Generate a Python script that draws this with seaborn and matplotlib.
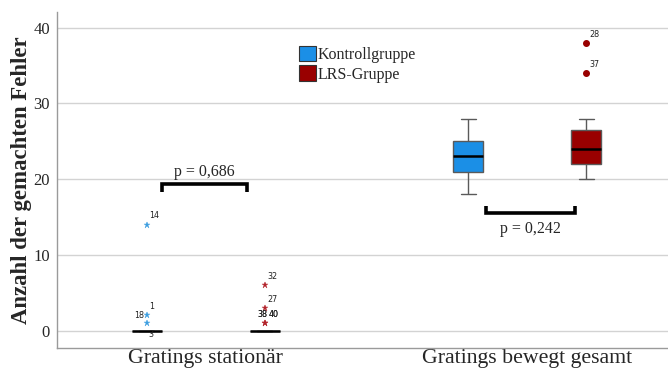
import numpy as np
import pandas as pd
import matplotlib
matplotlib.use("Agg")
import matplotlib.pyplot as plt
import seaborn as sns
from matplotlib.patches import Patch

# --- data -------------------------------------------------------------------
conditions = ["Gratings stationär", "Gratings bewegt gesamt"]
groups = ["Kontrollgruppe", "LRS-Gruppe"]

cases_kontroll = list(range(1, 21))
cases_lrs = list(range(21, 41))

# number of errors per case
kontroll_stationaer = [2, 0, 0, 0, 0, 0, 0, 0, 0, 0, 0, 0, 0, 14, 0, 0, 0, 1, 0, 0]
kontroll_bewegt = [23, 21, 25, 19, 24, 22, 28, 23, 21, 26, 25, 18, 23, 22, 27, 24, 21, 25, 20, 23]
lrs_stationaer = [0, 0, 0, 0, 0, 0, 3, 0, 0, 0, 0, 6, 0, 0, 0, 0, 0, 1, 0, 1]
lrs_bewegt = [24, 22, 26, 20, 28, 23, 24, 38, 22, 25, 21, 28, 24, 22, 23, 25, 34, 24, 22, 28]

p_values = ["p = 0,686", "p = 0,242"]

rows = []
for cond, vals_k, vals_l in [(conditions[0], kontroll_stationaer, lrs_stationaer),
                             (conditions[1], kontroll_bewegt, lrs_bewegt)]:
    for c, v in zip(cases_kontroll, vals_k):
        rows.append((cond, groups[0], c, v))
    for c, v in zip(cases_lrs, vals_l):
        rows.append((cond, groups[1], c, v))
df = pd.DataFrame(rows, columns=["Bedingung", "Gruppe", "Fall", "Fehler"])

# --- style ------------------------------------------------------------------
sns.set_style("white")
serif = ["Liberation Serif", "DejaVu Serif"]
plt.rcParams["font.family"] = serif

blue = "#1b8fe6"
red = "#990000"
star_colors = {groups[0]: "#3d9ee0", groups[1]: "#b3242c"}

fig = plt.figure(figsize=(6.68, 3.76), dpi=100)
ax = fig.add_axes([0.0853, 0.0745, 0.9147, 0.8935])

sns.boxplot(data=df, x="Bedingung", y="Fehler", hue="Gruppe",
            order=conditions, hue_order=groups, palette=[blue, red],
            saturation=1, width=0.734, gap=0.746, linewidth=1.0, linecolor="#5a5a5a",
            fliersize=4, legend=False, ax=ax,
            medianprops=dict(color="black", linewidth=1.8))

# restyle outliers: stars for the stationary condition, dots otherwise,
# and label every outlier with its case number
label_offsets = {18: (-9.2, 2), 38: (-5.6, 3), 40: (2.6, 3)}
for line in list(ax.lines):
    if line.get_marker() in ("None", None, "") or len(line.get_xdata()) == 0:
        continue
    xs = np.asarray(line.get_xdata(), dtype=float)
    ys = np.asarray(line.get_ydata(), dtype=float)
    ci = int(round(xs.mean()))
    group = groups[0] if xs.mean() < ci else groups[1]
    if ci == 0:
        line.set_marker("*")
        line.set_markersize(5)
        line.set_markerfacecolor(star_colors[group])
        line.set_markeredgecolor(star_colors[group])
        line.set_markeredgewidth(0.3)
    else:
        line.set_marker("o")
        line.set_markersize(4)
        line.set_markerfacecolor(red)
        line.set_markeredgecolor(red)
    sub = df[(df.Bedingung == conditions[ci]) & (df.Gruppe == group)]
    for x, y in zip(xs, ys):
        for case in sub.loc[sub.Fehler == y, "Fall"]:
            dx, dy = label_offsets.get(case, (2, 3))
            ax.annotate(str(case), (x, y), xytext=(dx, dy), textcoords="offset points",
                        fontsize=5.8, family="DejaVu Sans", color="#222222",
                        ha="left", va="bottom")

# case 3 sits on the median of the stationary control box
ax.annotate("3", (-0.1835, 0), xytext=(1, -3), textcoords="offset points",
            fontsize=5.8, family="DejaVu Sans", color="#222222", ha="left", va="center")

# significance brackets
def bracket(x0, x1, y, leg, text, ty):
    ax.plot([x0, x0, x1, x1], [y + leg, y, y, y + leg], color="black", lw=2.6,
            solid_joinstyle="miter", solid_capstyle="butt", zorder=5)
    ax.text((x0 + x1) / 2, ty, text, ha="center", va="center", fontsize=11.5)

bracket(-0.137, 0.128, 19.35, -1.05, p_values[0], 21.0)
bracket(0.871, 1.148, 15.5, 0.95, p_values[1], 13.4)

# axes
ax.set_xlim(-0.463, 1.437)
ax.set_ylim(-2.31, 42.07)
ax.set_yticks([0, 10, 20, 30, 40])
ax.yaxis.grid(True, color="#d3d3d3", linewidth=1.0)
ax.set_axisbelow(True)
for s in ("top", "right"):
    ax.spines[s].set_visible(False)
for s in ("left", "bottom"):
    ax.spines[s].set_color("#9a9a9a")
    ax.spines[s].set_linewidth(1.0)
ax.tick_params(axis="y", left=False, length=0, labelsize=12, pad=5)
ax.tick_params(axis="x", bottom=False, length=0, labelsize=15.7, pad=0.5)
ax.set_xlabel("")
ax.set_ylabel("Anzahl der gemachten Fehler", fontsize=16.4, fontweight="bold")
ax.yaxis.set_label_coords(-0.041, 0.5)

handles = [Patch(facecolor=blue, edgecolor="#333333", linewidth=0.8, label=groups[0]),
           Patch(facecolor=red, edgecolor="#333333", linewidth=0.8, label=groups[1])]
ax.legend(handles=handles, loc="upper left", bbox_to_anchor=(0.385, 0.918), frameon=False,
          fontsize=11.5, handlelength=1.1, handleheight=1.1, handletextpad=0.1,
          labelspacing=0.15, borderaxespad=0)

fig.savefig("out.png", dpi=100)
